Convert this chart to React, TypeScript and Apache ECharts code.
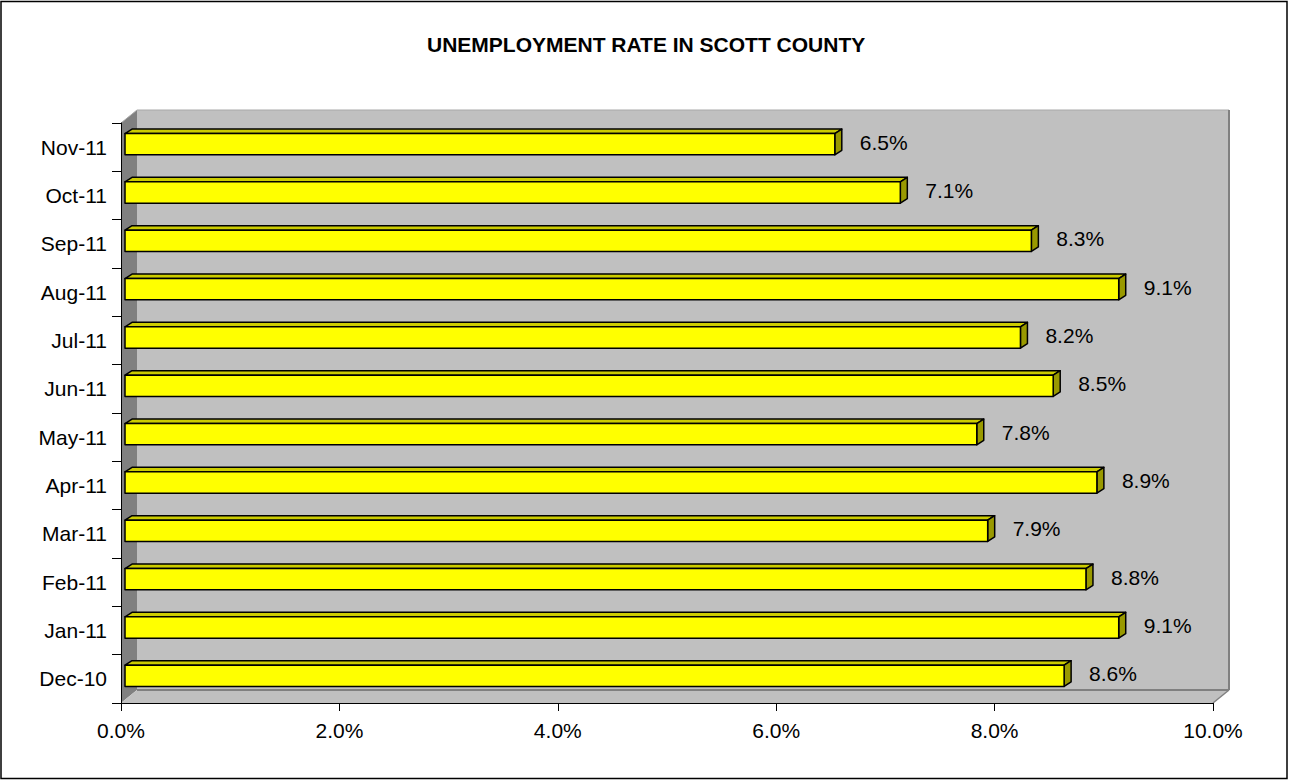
import React, { useEffect, useRef } from "react";
import * as echarts from "echarts";

const categories = ["Dec-10", "Jan-11", "Feb-11", "Mar-11", "Apr-11", "May-11", "Jun-11", "Jul-11", "Aug-11", "Sep-11", "Oct-11", "Nov-11"];
const rates = [8.6, 9.1, 8.8, 7.9, 8.9, 7.8, 8.5, 8.2, 9.1, 8.3, 7.1, 6.5];
const xMin = 0;
const xMax = 10;
const xStep = 2;
const titleText = "UNEMPLOYMENT RATE IN SCOTT COUNTY";

const FONT = "'Liberation Sans', Arial, Helvetica, sans-serif";

// layout
const GL = 121;
const GT = 123;
const GW = 1092;
const GH = 580;
const DX = 16;
const DY = 13;

export default function App() {
  const ref = useRef<HTMLDivElement>(null);

  useEffect(() => {
    document.body.style.margin = "0";
    const chart = echarts.init(ref.current!, null, { renderer: "svg" });

    const wallGraphics: any[] = [
      // back wall
      { type: "rect", z: 0, shape: { x: GL + DX, y: GT - DY, width: GW, height: GH }, style: { fill: "#C0C0C0" } },
      // left wall
      { type: "polygon", z: 0, shape: { points: [[GL, GT], [GL + DX, GT - DY], [GL + DX, GT - DY + GH], [GL, GT + GH]] }, style: { fill: "#808080" } },
      // floor
      { type: "polygon", z: 0, shape: { points: [[GL, GT + GH], [GL + DX, GT + GH - DY], [GL + DX + GW, GT + GH - DY], [GL + GW, GT + GH]] }, style: { fill: "#C0C0C0" } },
      // edges
      { type: "line", z: 0, shape: { x1: GL + DX, y1: GT - DY, x2: GL + DX + GW, y2: GT - DY }, style: { stroke: "#A8A8A8", lineWidth: 1 } },
      { type: "line", z: 0, shape: { x1: GL, y1: GT, x2: GL + DX, y2: GT - DY }, style: { stroke: "#A8A8A8", lineWidth: 1 } },
      { type: "line", z: 0, shape: { x1: GL + DX + GW, y1: GT - DY, x2: GL + DX + GW, y2: GT + GH - DY }, style: { stroke: "#808080", lineWidth: 2 } },
      { type: "line", z: 0, shape: { x1: GL + DX, y1: GT + GH - DY, x2: GL + DX + GW, y2: GT + GH - DY }, style: { stroke: "#808080", lineWidth: 2 } },
      { type: "line", z: 0, shape: { x1: GL + DX + GW, y1: GT + GH - DY, x2: GL + GW, y2: GT + GH }, style: { stroke: "#808080", lineWidth: 1.5 } },
      // outer border
      { type: "rect", z: 20, shape: { x: 1, y: 1.5, width: 1286, height: 777 }, style: { fill: "none", stroke: "#000", lineWidth: 1.5 } },
    ];

    chart.setOption({
      animation: false,
      backgroundColor: "#FFFFFF",
      title: {
        text: titleText,
        left: 422,
        top: 29,
        textStyle: { fontFamily: FONT, fontSize: 21, fontWeight: "bold", color: "#000" },
      },
      graphic: { elements: wallGraphics },
      grid: { left: GL, top: GT, width: GW, height: GH },
      xAxis: {
        type: "value",
        min: xMin,
        max: xMax,
        interval: xStep,
        z: 10,
        axisLine: { show: true, lineStyle: { color: "#000", width: 1 } },
        axisTick: { show: true, length: 8, lineStyle: { color: "#000" } },
        splitLine: { show: false },
        axisLabel: {
          margin: 17,
          fontFamily: FONT,
          fontSize: 21,
          color: "#000",
          formatter: (v: number) => v.toFixed(1) + "%",
        },
      },
      yAxis: {
        type: "category",
        data: categories,
        z: 10,
        axisLine: { show: true, lineStyle: { color: "#000", width: 1 } },
        axisTick: { show: true, length: 9, lineStyle: { color: "#000" } },
        splitLine: { show: false },
        axisLabel: { margin: 14, fontFamily: FONT, fontSize: 21, color: "#000" },
      },
      series: [
        {
          type: "custom",
          z: 5,
          clip: false,
          encode: { x: 0, y: 1 },
          data: rates.map((v, i) => [v, i]),
          renderItem: (params: any, api: any) => {
            const v = api.value(0);
            const cat = api.value(1);
            const s = api.coord([0, cat]);
            const e = api.coord([v, cat]);
            const band = api.size([0, 1])[1];
            const h = band * 0.44;
            const dx = 7;
            const dy = 4.5;
            const x0 = s[0] + 4;
            const x1 = e[0] + 4;
            const cy = s[1] - 3;
            const yT = cy - h / 2;
            const yB = cy + h / 2;
            const border = { stroke: "#000", lineWidth: 1.5, lineJoin: "round" };
            return {
              type: "group",
              children: [
                {
                  type: "polygon",
                  shape: { points: [[x0, yT], [x0 + dx, yT - dy], [x1 + dx, yT - dy], [x1, yT]] },
                  style: { fill: "#CCCC00", ...border },
                },
                {
                  type: "polygon",
                  shape: { points: [[x1, yT], [x1 + dx, yT - dy], [x1 + dx, yB - dy], [x1, yB]] },
                  style: { fill: "#999900", ...border },
                },
                {
                  type: "rect",
                  shape: { x: x0, y: yT, width: x1 - x0, height: h },
                  style: { fill: "#FFFF00", ...border },
                },
                {
                  type: "text",
                  style: {
                    text: v.toFixed(1) + "%",
                    x: x1 + 25,
                    y: cy - 2,
                    align: "left",
                    verticalAlign: "middle",
                    textAlign: "left",
                    textVerticalAlign: "middle",
                    fontFamily: FONT,
                    fontSize: 21,
                    fill: "#000",
                  },
                },
              ],
            };
          },
        },
      ],
    });

    return () => chart.dispose();
  }, []);

  return <div ref={ref} style={{ position: "absolute", left: 0, top: 0, width: 1289, height: 781 }} />;
}
